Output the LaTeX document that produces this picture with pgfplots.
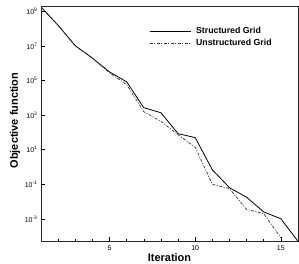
\documentclass[border=0pt]{standalone}
\usepackage{fontspec}
\setmainfont{Liberation Sans}
\usepackage{pgfplots}
\pgfplotsset{compat=1.18}
\begin{document}
\begin{tikzpicture}
\useasboundingbox (-41bp,-23bp) rectangle (258bp,241bp);
\begin{axis}[
  at={(0,0)}, anchor=south west,
  scale only axis, width=257bp, height=234bp,
  xmin=1, xmax=16,
  ymode=log, log basis y=10,
  ymin=5.2e-5, ymax=1.82e9,
  xtick={5,10,15},
  minor xtick={2,3,4,6,7,8,9,11,12,13,14},
  ytick={1e-3,1e-1,1e1,1e3,1e5,1e7,1e9},
  yticklabels={10\textsuperscript{-3},10\textsuperscript{-1},10\textsuperscript{1},10\textsuperscript{3},10\textsuperscript{5},10\textsuperscript{7},10\textsuperscript{9}},
  minor ytick={},
  xtick pos=left, ytick pos=left,
  major tick length=4bp, minor tick length=2.5bp,
  tick style={black, line width=0.6bp},
  axis line style={line width=1bp, black!85},
  /pgf/number format/assume math mode=true,
  tick label style={font=\fontsize{7}{8}\selectfont},
  xticklabel style={yshift=-1bp},
  xlabel={\textbf{Iteration}},
  ylabel={\textbf{Objective function}},
  every axis x label/.style={at={(axis description cs:0.5,0)}, anchor=base, yshift=-20.3bp, inner sep=0pt, font=\fontsize{11}{12}\selectfont},
  every axis y label/.style={at={(axis description cs:-0.101,0.515)}, rotate=90, anchor=center, inner sep=0pt, font=\fontsize{11}{12}\selectfont},
  legend style={at={(axis description cs:0.42,0.918)}, anchor=north west, draw=none, fill=none,
    font=\bfseries\fontsize{8.8}{9}\selectfont, row sep=1.5bp, column sep=4bp, inner sep=0pt,
    nodes={inner sep=1.2bp}},
  legend cell align=left,
  legend image code/.code={\draw[#1] (0bp,0bp) -- (41bp,0bp);},
]
\addplot[black, line width=0.8bp] coordinates {
(1,1.82e9) (2,1.58e8) (3,1.05e7) (4,2.0e6) (5,3.16e5) (6,8.5e4) (7,2.7e3) (8,1.38e3)
(9,85) (10,50) (11,0.69) (12,0.063) (13,0.0178) (14,2.5e-3) (15,1.0e-3) (16,5.0e-5)
};
\addlegendentry{Structured Grid}
\addplot[black!80, line width=0.7bp, dash pattern=on 3bp off 1.5bp on 1bp off 1.5bp] coordinates {
(1,1.82e9) (2,1.58e8) (3,1.0e7) (4,2.0e6) (5,2.8e5) (6,5.9e4) (7,1.58e3) (8,4.4e2)
(9,74) (10,14) (11,0.1) (12,0.056) (13,3.5e-3) (14,2.0e-3) (15,7.9e-5)
};
\addlegendentry{Unstructured Grid}
\end{axis}
\end{tikzpicture}
\end{document}
